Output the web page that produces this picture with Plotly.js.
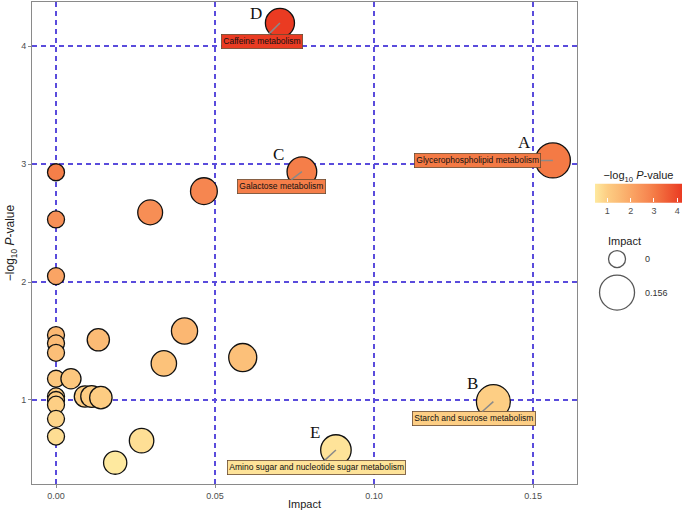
<!DOCTYPE html>
<html>
<head>
<meta charset="utf-8">
<script src="https://cdn.plot.ly/plotly-3.0.1.min.js"></script>
<style>html,body{margin:0;padding:0;background:#fff;}#chart{width:685px;height:514px;}</style>
</head>
<body>
<div id="chart"></div>
<script>
// ---- data ----
const pathways = [
  "Caffeine metabolism", "Glycerophospholipid metabolism", "Galactose metabolism",
  "p4", "p5", "p6", "p7", "p8", "p9", "p10", "p11", "p12", "p13", "p14", "p15",
  "p16", "p17", "p18", "p19", "p20", "p21", "p22",
  "Starch and sucrose metabolism", "p24", "p25", "p26", "p27",
  "Amino sugar and nucleotide sugar metabolism", "p29"
];
const impact = [
  0.0704, 0.1562, 0.0773, 0, 0.0465, 0.0296, 0, 0, 0.0404, 0, 0.0133, 0, 0, 0.0587, 0.0339,
  0, 0.0047, 0, 0.0091, 0.0112, 0.0141, 0, 0.1375, 0, 0, 0, 0.0269, 0.088, 0.0186
];
const negLogP = [
  4.195, 3.03, 2.935, 2.93, 2.77, 2.59, 2.53, 2.05, 1.585, 1.55, 1.51, 1.48, 1.40, 1.36, 1.31,
  1.18, 1.18, 1.03, 1.03, 1.03, 1.02, 1.00, 0.986, 0.96, 0.84, 0.69, 0.655, 0.576, 0.469
];
const labelled = ["Caffeine metabolism", "Glycerophospholipid metabolism", "Galactose metabolism",
                  "Starch and sucrose metabolism", "Amino sugar and nucleotide sugar metabolism"];
const labelLetters = ["D", "A", "C", "B", "E"];
const xTickVals = [0, 0.05, 0.10, 0.15];
const xTickText = ["0.00", "0.05", "0.10", "0.15"];
const yTickVals = [1, 2, 3, 4];
const colorTickVals = [1, 2, 3, 4];
const sizeLegendValues = [0, 0.156];
const sizeLegendText = ["0", "0.156"];

// ---- styles / positions ----
const impactMax = 0.156;
const sizeOf = v => 17 + 18 * Math.sqrt(v / impactMax);
const cmin = 0.47, cmax = 4.2;
const cscale = [[0, '#FEE99F'], [0.142, '#FDCD83'], [0.276, '#FBBB75'], [0.424, '#FAA464'],
                [0.617, '#F68650'], [0.686, '#F47A45'], [1, '#EA3B22']];
function hex2rgb(h){return [1,3,5].map(i=>parseInt(h.substr(i,2),16));}
function colorAt(v){
  let t = Math.max(0, Math.min(1, (v - cmin) / (cmax - cmin)));
  for (let i = 1; i < cscale.length; i++) {
    if (t <= cscale[i][0]) {
      const [t0, c0] = cscale[i-1], [t1, c1] = cscale[i];
      const f = (t - t0) / (t1 - t0);
      const a = hex2rgb(c0), b = hex2rgb(c1);
      return 'rgb(' + a.map((x, k) => Math.round(x + (b[k] - x) * f)).join(',') + ')';
    }
  }
  return cscale[cscale.length-1][1];
}
// label box offsets (px) and letter offsets (px), in order of `labelled`
const boxOffsets = [[-18, 18], [-75, 0], [-20, 15], [-19, 17], [-19, 17.5]];
const letterOffsets = [[-24, 10], [-28, 18], [-23, 17], [-21, 18], [-21, 18]];

const gridColor = '#5A4CDC';
const gridDash = '5px,4px';
const font = "'Liberation Sans', Arial, sans-serif";

const main = {
  type: 'scatter', mode: 'markers',
  x: impact, y: negLogP, text: pathways,
  xaxis: 'x', yaxis: 'y',
  marker: {
    size: impact.map(sizeOf), sizemode: 'diameter',
    color: negLogP, cmin: cmin, cmax: cmax, colorscale: cscale,
    opacity: 1,
    line: {color: '#111', width: 1.3},
    showscale: true,
    colorbar: {
      orientation: 'h', x: 0.933, xanchor: 'center', y: 0.60, yanchor: 'middle',
      lenmode: 'pixels', len: 107, thickness: 19, outlinewidth: 0,
      tickvals: colorTickVals, ticks: 'inside', tickcolor: '#fff', ticklen: 4,
      tickfont: {size: 9, color: '#4D4D4D', family: font},
      title: {text: '\u2212log<sub>10</sub> <i>P</i>-value', side: 'top', font: {size: 11, color: '#222', family: font}}
    }
  },
  hoverinfo: 'text', showlegend: false
};

const sizeLegend = {
  type: 'scatter', mode: 'markers',
  x: sizeLegendValues.map(() => 0.286), y: [0.641, 0.374],
  xaxis: 'x2', yaxis: 'y2',
  marker: {size: sizeLegendValues.map(sizeOf), color: 'rgba(0,0,0,0)', line: {color: '#111', width: 1.3}},
  hoverinfo: 'skip', showlegend: false
};

const annotations = [];
labelled.forEach((name, k) => {
  const i = pathways.indexOf(name);
  const col = colorAt(negLogP[i]);
  annotations.push({
    x: impact[i], y: negLogP[i], xref: 'x', yref: 'y',
    text: name, showarrow: true, arrowhead: 0, arrowwidth: 1.5, arrowcolor: '#8a8a8a',
    standoff: 0, ax: boxOffsets[k][0], ay: boxOffsets[k][1],
    bgcolor: col, bordercolor: '#6a4a30', borderwidth: 0.8, borderpad: 1.5,
    font: {size: 8.5, color: '#111', family: font}
  });
  annotations.push({
    x: impact[i], y: negLogP[i], xref: 'x', yref: 'y',
    text: labelLetters[k], showarrow: false,
    xshift: letterOffsets[k][0], yshift: letterOffsets[k][1],
    font: {size: 17, color: '#111', family: "'Liberation Serif', 'Times New Roman', serif"}
  });
});
annotations.push({xref: 'paper', yref: 'paper', x: 0.912, xanchor: 'center', y: 0.504, yanchor: 'middle',
  text: 'Impact', showarrow: false, font: {size: 11, color: '#222', family: font}});
sizeLegendText.forEach((t, k) => {
  annotations.push({xref: 'paper', yref: 'paper', x: 0.94, xanchor: 'left', y: [0.467, 0.397][k], yanchor: 'middle',
    text: t, showarrow: false, font: {size: 9, color: '#333', family: font}});
});

const layout = {
  width: 685, height: 514,
  margin: {l: 32, r: 3, t: 2, b: 30, autoexpand: false},
  paper_bgcolor: '#fff', plot_bgcolor: '#fff',
  font: {family: font},
  xaxis: {
    domain: [0, 0.8385], range: [-0.00755, 0.1638],
    tickvals: xTickVals, ticktext: xTickText,
    showgrid: true, gridcolor: gridColor, griddash: gridDash, gridwidth: 1.5,
    zeroline: false, showline: true, mirror: true, linecolor: '#8a8a8a', linewidth: 1,
    ticks: 'outside', ticklen: 3, tickcolor: '#8a8a8a',
    tickfont: {size: 9, color: '#4D4D4D', family: font},
    title: {text: 'Impact', font: {size: 11, color: '#222', family: font}, standoff: 0},
    automargin: false
  },
  yaxis: {
    range: [0.288, 4.373],
    tickvals: yTickVals,
    showgrid: true, gridcolor: gridColor, griddash: gridDash, gridwidth: 1.5,
    zeroline: false, showline: true, mirror: true, linecolor: '#8a8a8a', linewidth: 1,
    ticks: 'outside', ticklen: 3, tickcolor: '#8a8a8a',
    tickfont: {size: 9, color: '#4D4D4D', family: font},
    title: {text: '\u2212log<sub>10</sub> <i>P</i>-value', font: {size: 12, color: '#222', family: font}, standoff: 3},
    automargin: false
  },
  xaxis2: {domain: [0.86, 1], range: [0, 1], visible: false, fixedrange: true, anchor: 'y2'},
  yaxis2: {domain: [0.3, 0.56], range: [0, 1], visible: false, fixedrange: true, anchor: 'x2'},
  annotations: annotations,
  showlegend: false
};

Plotly.newPlot('chart', [main, sizeLegend], layout, {displayModeBar: false});
</script>
</body>
</html>
